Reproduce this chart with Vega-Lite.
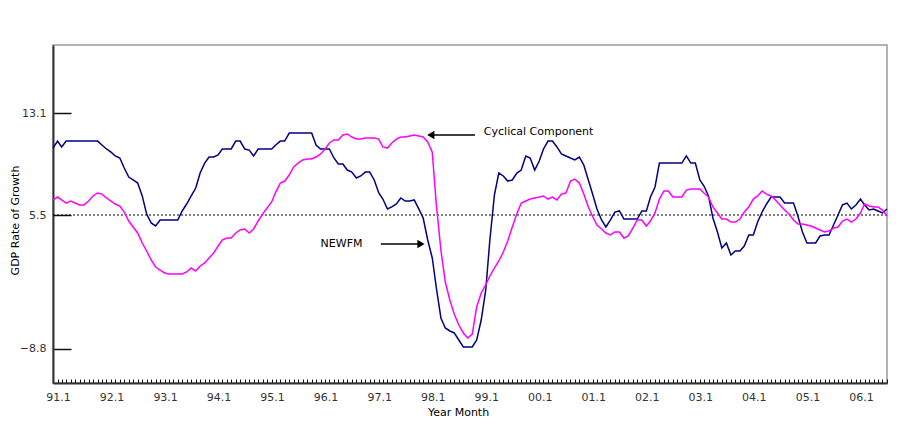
{
  "$schema": "https://vega.github.io/schema/vega-lite/v6.json",
  "width": 834,
  "height": 338,
  "autosize": {"type": "none"},
  "padding": {"left": 53, "top": 45, "right": 11, "bottom": 38},
  "background": "white",
  "config": {
    "view": {"stroke": "#9a9a9a", "strokeWidth": 1.5},
    "font": "DejaVu Sans",
    "axis": {"grid": false, "domainColor": "#333", "domainWidth": 2, "tickColor": "#111", "labelColor": "#333", "labelFont": "DejaVu Sans", "titleFont": "DejaVu Sans", "titleFontWeight": "normal", "titleColor": "#000"}
  },
  "datasets": {
    "series": [
      {"d":"1991-01","NEWFM":10.49,"Cyclical":6.62},{"d":"1991-02","NEWFM":11.01,"Cyclical":6.84},{"d":"1991-03","NEWFM":10.57,"Cyclical":6.62},{"d":"1991-04","NEWFM":11.01,"Cyclical":6.39},{"d":"1991-05","NEWFM":11.01,"Cyclical":6.54},{"d":"1991-06","NEWFM":11.01,"Cyclical":6.39},{"d":"1991-07","NEWFM":11.01,"Cyclical":6.25},{"d":"1991-08","NEWFM":11.01,"Cyclical":6.25},{"d":"1991-09","NEWFM":11.01,"Cyclical":6.54},{"d":"1991-10","NEWFM":11.01,"Cyclical":6.92},{"d":"1991-11","NEWFM":11.01,"Cyclical":7.14},{"d":"1991-12","NEWFM":10.72,"Cyclical":7.06},
      {"d":"1992-01","NEWFM":10.42,"Cyclical":6.77},{"d":"1992-02","NEWFM":10.19,"Cyclical":6.54},{"d":"1992-03","NEWFM":9.90,"Cyclical":6.32},{"d":"1992-04","NEWFM":9.75,"Cyclical":6.17},{"d":"1992-05","NEWFM":9.00,"Cyclical":5.72},{"d":"1992-06","NEWFM":8.33,"Cyclical":4.86},{"d":"1992-07","NEWFM":8.11,"Cyclical":4.22},{"d":"1992-08","NEWFM":7.88,"Cyclical":3.58},{"d":"1992-09","NEWFM":6.92,"Cyclical":2.51},{"d":"1992-10","NEWFM":5.57,"Cyclical":1.66},{"d":"1992-11","NEWFM":4.65,"Cyclical":0.70},{"d":"1992-12","NEWFM":4.33,"Cyclical":-0.05},
      {"d":"1993-01","NEWFM":4.97,"Cyclical":-0.37},{"d":"1993-02","NEWFM":4.97,"Cyclical":-0.69},{"d":"1993-03","NEWFM":4.97,"Cyclical":-0.80},{"d":"1993-04","NEWFM":4.97,"Cyclical":-0.80},{"d":"1993-05","NEWFM":4.97,"Cyclical":-0.80},{"d":"1993-06","NEWFM":5.80,"Cyclical":-0.80},{"d":"1993-07","NEWFM":6.32,"Cyclical":-0.58},{"d":"1993-08","NEWFM":6.92,"Cyclical":-0.16},{"d":"1993-09","NEWFM":7.51,"Cyclical":-0.48},{"d":"1993-10","NEWFM":8.63,"Cyclical":0.06},{"d":"1993-11","NEWFM":9.37,"Cyclical":0.38},{"d":"1993-12","NEWFM":9.82,"Cyclical":0.91},
      {"d":"1994-01","NEWFM":9.82,"Cyclical":1.44},{"d":"1994-02","NEWFM":9.97,"Cyclical":2.19},{"d":"1994-03","NEWFM":10.42,"Cyclical":2.83},{"d":"1994-04","NEWFM":10.42,"Cyclical":3.05},{"d":"1994-05","NEWFM":10.42,"Cyclical":3.05},{"d":"1994-06","NEWFM":11.01,"Cyclical":3.58},{"d":"1994-07","NEWFM":11.01,"Cyclical":3.90},{"d":"1994-08","NEWFM":10.42,"Cyclical":4.01},{"d":"1994-09","NEWFM":10.34,"Cyclical":3.58},{"d":"1994-10","NEWFM":9.90,"Cyclical":4.01},{"d":"1994-11","NEWFM":10.42,"Cyclical":4.86},{"d":"1994-12","NEWFM":10.42,"Cyclical":5.57},
      {"d":"1995-01","NEWFM":10.42,"Cyclical":6.02},{"d":"1995-02","NEWFM":10.42,"Cyclical":6.47},{"d":"1995-03","NEWFM":10.72,"Cyclical":7.21},{"d":"1995-04","NEWFM":11.01,"Cyclical":7.88},{"d":"1995-05","NEWFM":11.01,"Cyclical":8.03},{"d":"1995-06","NEWFM":11.61,"Cyclical":8.48},{"d":"1995-07","NEWFM":11.61,"Cyclical":9.08},{"d":"1995-08","NEWFM":11.61,"Cyclical":9.37},{"d":"1995-09","NEWFM":11.61,"Cyclical":9.60},{"d":"1995-10","NEWFM":11.61,"Cyclical":9.67},{"d":"1995-11","NEWFM":11.61,"Cyclical":9.67},{"d":"1995-12","NEWFM":10.72,"Cyclical":9.82},
      {"d":"1996-01","NEWFM":10.42,"Cyclical":10.05},{"d":"1996-02","NEWFM":10.42,"Cyclical":10.42},{"d":"1996-03","NEWFM":10.42,"Cyclical":10.87},{"d":"1996-04","NEWFM":9.75,"Cyclical":11.09},{"d":"1996-05","NEWFM":9.30,"Cyclical":11.09},{"d":"1996-06","NEWFM":9.30,"Cyclical":11.46},{"d":"1996-07","NEWFM":8.85,"Cyclical":11.54},{"d":"1996-08","NEWFM":8.70,"Cyclical":11.31},{"d":"1996-09","NEWFM":8.26,"Cyclical":11.16},{"d":"1996-10","NEWFM":8.41,"Cyclical":11.16},{"d":"1996-11","NEWFM":8.70,"Cyclical":11.24},{"d":"1996-12","NEWFM":8.70,"Cyclical":11.24},
      {"d":"1997-01","NEWFM":8.11,"Cyclical":11.24},{"d":"1997-02","NEWFM":7.14,"Cyclical":11.16},{"d":"1997-03","NEWFM":6.69,"Cyclical":10.57},{"d":"1997-04","NEWFM":5.95,"Cyclical":10.49},{"d":"1997-05","NEWFM":6.10,"Cyclical":10.87},{"d":"1997-06","NEWFM":6.32,"Cyclical":11.16},{"d":"1997-07","NEWFM":6.77,"Cyclical":11.31},{"d":"1997-08","NEWFM":6.54,"Cyclical":11.31},{"d":"1997-09","NEWFM":6.54,"Cyclical":11.39},{"d":"1997-10","NEWFM":6.62,"Cyclical":11.46},{"d":"1997-11","NEWFM":5.95,"Cyclical":11.39},{"d":"1997-12","NEWFM":5.18,"Cyclical":11.31},
      {"d":"1998-01","NEWFM":2.83,"Cyclical":10.94},{"d":"1998-02","NEWFM":0.91,"Cyclical":10.19},{"d":"1998-03","NEWFM":-2.29,"Cyclical":6.25},{"d":"1998-04","NEWFM":-5.49,"Cyclical":1.76},{"d":"1998-05","NEWFM":-6.56,"Cyclical":-1.65},{"d":"1998-06","NEWFM":-6.88,"Cyclical":-3.57},{"d":"1998-07","NEWFM":-7.09,"Cyclical":-5.07},{"d":"1998-08","NEWFM":-7.84,"Cyclical":-6.24},{"d":"1998-09","NEWFM":-8.59,"Cyclical":-7.09},{"d":"1998-10","NEWFM":-8.59,"Cyclical":-7.63},{"d":"1998-11","NEWFM":-8.59,"Cyclical":-7.20},{"d":"1998-12","NEWFM":-7.84,"Cyclical":-4.32},
      {"d":"1999-01","NEWFM":-5.71,"Cyclical":-2.82},{"d":"1999-02","NEWFM":-2.50,"Cyclical":-1.97},{"d":"1999-03","NEWFM":2.83,"Cyclical":-1.01},{"d":"1999-04","NEWFM":6.99,"Cyclical":-0.16},{"d":"1999-05","NEWFM":8.63,"Cyclical":0.59},{"d":"1999-06","NEWFM":8.41,"Cyclical":1.55},{"d":"1999-07","NEWFM":8.03,"Cyclical":2.73},{"d":"1999-08","NEWFM":8.11,"Cyclical":4.22},{"d":"1999-09","NEWFM":8.63,"Cyclical":5.57},{"d":"1999-10","NEWFM":8.85,"Cyclical":6.39},{"d":"1999-11","NEWFM":9.90,"Cyclical":6.54},{"d":"1999-12","NEWFM":9.75,"Cyclical":6.69},
      {"d":"2000-01","NEWFM":8.85,"Cyclical":6.77},{"d":"2000-02","NEWFM":9.52,"Cyclical":6.84},{"d":"2000-03","NEWFM":10.42,"Cyclical":6.92},{"d":"2000-04","NEWFM":11.01,"Cyclical":6.69},{"d":"2000-05","NEWFM":11.01,"Cyclical":6.84},{"d":"2000-06","NEWFM":10.57,"Cyclical":6.62},{"d":"2000-07","NEWFM":10.05,"Cyclical":7.06},{"d":"2000-08","NEWFM":9.90,"Cyclical":7.14},{"d":"2000-09","NEWFM":9.75,"Cyclical":8.03},{"d":"2000-10","NEWFM":9.60,"Cyclical":8.18},{"d":"2000-11","NEWFM":9.82,"Cyclical":7.88},{"d":"2000-12","NEWFM":9.23,"Cyclical":7.06},
      {"d":"2001-01","NEWFM":8.11,"Cyclical":6.10},{"d":"2001-02","NEWFM":6.99,"Cyclical":5.29},{"d":"2001-03","NEWFM":5.95,"Cyclical":4.43},{"d":"2001-04","NEWFM":4.97,"Cyclical":4.01},{"d":"2001-05","NEWFM":4.22,"Cyclical":3.58},{"d":"2001-06","NEWFM":4.97,"Cyclical":3.37},{"d":"2001-07","NEWFM":5.72,"Cyclical":3.69},{"d":"2001-08","NEWFM":5.80,"Cyclical":3.69},{"d":"2001-09","NEWFM":5.07,"Cyclical":3.05},{"d":"2001-10","NEWFM":5.07,"Cyclical":3.26},{"d":"2001-11","NEWFM":5.07,"Cyclical":4.11},{"d":"2001-12","NEWFM":5.07,"Cyclical":4.97},
      {"d":"2002-01","NEWFM":5.80,"Cyclical":4.97},{"d":"2002-02","NEWFM":5.80,"Cyclical":4.33},{"d":"2002-03","NEWFM":6.84,"Cyclical":4.86},{"d":"2002-04","NEWFM":7.59,"Cyclical":5.65},{"d":"2002-05","NEWFM":9.37,"Cyclical":6.69},{"d":"2002-06","NEWFM":9.37,"Cyclical":7.29},{"d":"2002-07","NEWFM":9.37,"Cyclical":7.29},{"d":"2002-08","NEWFM":9.37,"Cyclical":6.84},{"d":"2002-09","NEWFM":9.37,"Cyclical":6.84},{"d":"2002-10","NEWFM":9.37,"Cyclical":6.84},{"d":"2002-11","NEWFM":9.90,"Cyclical":7.36},{"d":"2002-12","NEWFM":9.37,"Cyclical":7.44},
      {"d":"2003-01","NEWFM":9.37,"Cyclical":7.44},{"d":"2003-02","NEWFM":8.11,"Cyclical":7.44},{"d":"2003-03","NEWFM":7.66,"Cyclical":7.14},{"d":"2003-04","NEWFM":6.92,"Cyclical":6.84},{"d":"2003-05","NEWFM":5.18,"Cyclical":6.10},{"d":"2003-06","NEWFM":3.69,"Cyclical":5.65},{"d":"2003-07","NEWFM":1.98,"Cyclical":5.07},{"d":"2003-08","NEWFM":2.51,"Cyclical":5.07},{"d":"2003-09","NEWFM":1.23,"Cyclical":4.75},{"d":"2003-10","NEWFM":1.66,"Cyclical":4.75},{"d":"2003-11","NEWFM":1.66,"Cyclical":5.07},{"d":"2003-12","NEWFM":2.19,"Cyclical":5.72},
      {"d":"2004-01","NEWFM":3.37,"Cyclical":6.10},{"d":"2004-02","NEWFM":3.37,"Cyclical":6.69},{"d":"2004-03","NEWFM":4.75,"Cyclical":6.92},{"d":"2004-04","NEWFM":5.72,"Cyclical":7.29},{"d":"2004-05","NEWFM":6.32,"Cyclical":7.06},{"d":"2004-06","NEWFM":6.84,"Cyclical":6.92},{"d":"2004-07","NEWFM":6.84,"Cyclical":6.62},{"d":"2004-08","NEWFM":6.84,"Cyclical":6.25},{"d":"2004-09","NEWFM":6.39,"Cyclical":5.87},{"d":"2004-10","NEWFM":6.39,"Cyclical":5.57},{"d":"2004-11","NEWFM":6.39,"Cyclical":4.97},{"d":"2004-12","NEWFM":5.39,"Cyclical":4.54},
      {"d":"2005-01","NEWFM":3.69,"Cyclical":4.54},{"d":"2005-02","NEWFM":2.51,"Cyclical":4.43},{"d":"2005-03","NEWFM":2.51,"Cyclical":4.33},{"d":"2005-04","NEWFM":2.51,"Cyclical":4.11},{"d":"2005-05","NEWFM":3.26,"Cyclical":3.90},{"d":"2005-06","NEWFM":3.37,"Cyclical":3.69},{"d":"2005-07","NEWFM":3.37,"Cyclical":3.79},{"d":"2005-08","NEWFM":4.43,"Cyclical":4.11},{"d":"2005-09","NEWFM":5.50,"Cyclical":4.22},{"d":"2005-10","NEWFM":6.25,"Cyclical":4.86},{"d":"2005-11","NEWFM":6.39,"Cyclical":5.07},{"d":"2005-12","NEWFM":5.95,"Cyclical":4.75},
      {"d":"2006-01","NEWFM":6.25,"Cyclical":5.07},{"d":"2006-02","NEWFM":6.69,"Cyclical":5.65},{"d":"2006-03","NEWFM":6.25,"Cyclical":6.32},{"d":"2006-04","NEWFM":5.87,"Cyclical":6.17},{"d":"2006-05","NEWFM":5.95,"Cyclical":6.10},{"d":"2006-06","NEWFM":5.80,"Cyclical":6.10},{"d":"2006-07","NEWFM":5.65,"Cyclical":5.87},{"d":"2006-08","NEWFM":5.95,"Cyclical":5.39}
    ],
    "arrows": [
      {"from":"1998-01-20","to":"1998-11-19","y":11.46,"head":"1998-01-22","shape":"triangle-left"},
      {"from":"1997-02-15","to":"1997-11-16","y":2.40,"head":"1997-11-16","shape":"triangle-right"}
    ],
    "notes": [
      {"x":"1999-01-19","y":11.68,"t":"Cyclical Component"},
      {"x":"1996-01-01","y":2.45,"t":"NEWFM"}
    ],
    "ref": [{"mean":5.5}]
  },
  "layer": [
    {
      "data": {"name": "ref"},
      "mark": {"type": "rule", "color": "#000", "strokeWidth": 1.2, "strokeDash": [2, 2]},
      "encoding": {
        "y": {"field": "mean", "type": "quantitative"}
      }
    },
    {
      "data": {"name": "series"},
      "transform": [{"fold": ["NEWFM", "Cyclical"], "as": ["series", "v"]}],
      "mark": {"type": "line", "strokeWidth": 1.5},
      "encoding": {
        "x": {
          "field": "d", "type": "temporal",
          "scale": {"type": "utc", "domain": [{"year": 1991, "month": 1, "date": 1, "utc": true}, {"year": 2006, "month": 8, "date": 1, "utc": true}], "nice": false},
          "axis": {
            "title": "Year Month", "titleFontSize": 11, "titleX": 405, "titleY": 29, "titleBaseline": "middle",
            "tickCount": {"interval": "month", "step": 1},
            "labelExpr": "utcmonth(datum.value) === 0 ? utcFormat(datum.value, '%y') + '.1' : ''",
            "labelOverlap": false, "labelFlush": false, "labelBound": false,
            "labelFontSize": 11, "labelOffset": 5,
            "tickSize": -4, "tickWidth": 1, "labelPadding": 12
          }
        },
        "y": {
          "field": "v", "type": "quantitative",
          "scale": {"domain": [-12.43, 5.5, 18.17], "range": [338, 170, 0], "zero": false, "nice": false},
          "axis": {
            "title": "GDP Rate of Growth", "titleFontSize": 11, "titleX": -38, "titleY": 175, "titleAngle": -90, "titleAlign": "center", "titleBaseline": "middle",
            "values": [-8.8, 5.5, 13.1], "format": ".1f",
            "labelFontSize": 11, "tickSize": -18, "tickWidth": 1.5, "labelPadding": 25
          }
        },
        "color": {
          "field": "series", "type": "nominal",
          "scale": {"domain": ["NEWFM", "Cyclical"], "range": ["#000080", "#ff00ff"]},
          "legend": null
        }
      }
    },
    {
      "data": {"name": "arrows"},
      "mark": {"type": "rule", "color": "#000", "strokeWidth": 1.5},
      "encoding": {
        "x": {"field": "from", "type": "temporal"},
        "x2": {"field": "to"},
        "y": {"field": "y", "type": "quantitative"}
      }
    },
    {
      "data": {"name": "arrows"},
      "mark": {"type": "point", "filled": true, "color": "#000", "opacity": 1, "size": 70},
      "encoding": {
        "x": {"field": "head", "type": "temporal"},
        "y": {"field": "y", "type": "quantitative"},
        "shape": {"field": "shape", "type": "nominal", "scale": null}
      }
    },
    {
      "data": {"name": "notes"},
      "mark": {"type": "text", "align": "left", "baseline": "middle", "font": "DejaVu Sans", "fontSize": 11, "color": "#000"},
      "encoding": {
        "x": {"field": "x", "type": "temporal"},
        "y": {"field": "y", "type": "quantitative"},
        "text": {"field": "t"}
      }
    }
  ]
}
